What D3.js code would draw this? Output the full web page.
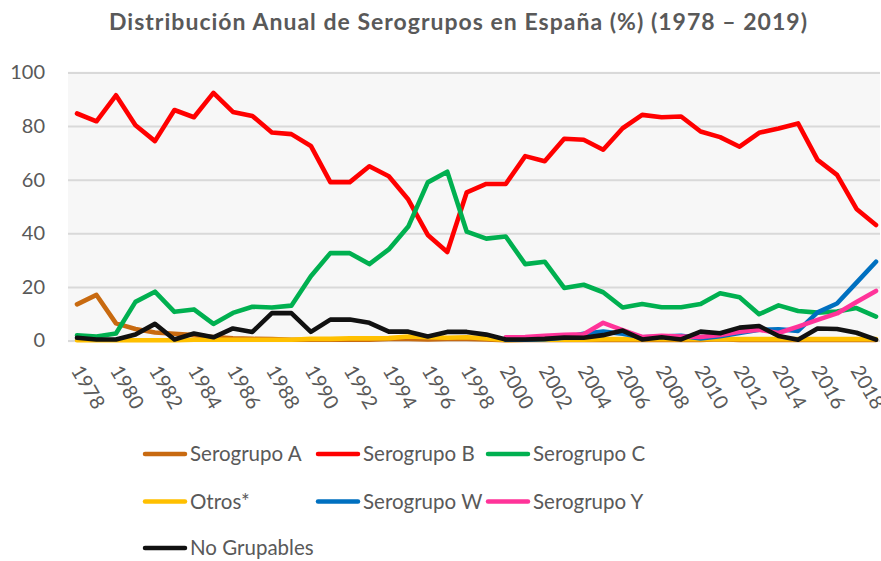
<!DOCTYPE html>
<html>
<head>
<meta charset="utf-8">
<script src="https://cdn.jsdelivr.net/npm/d3@7"></script>
<style>
  html, body { margin: 0; padding: 0; background: #fff; }
  svg { display: block; font-family: Lato, "Open Sans", sans-serif; }
</style>
</head>
<body>
<svg id="chart" width="881" height="561"></svg>
<script>
const years = d3.range(1978, 2020);
const tickYears = d3.range(1978, 2019, 2);
const yTicks = [0, 20, 40, 60, 80, 100];

const serogrupoA = [13.5, 17, 6.4, 4.3, 3.0, 2.5, 2.0, 1.3, 0.8, 0.6, 0.5, 0.3, 0.3, 0.3, 0.3, 0.3, 0.6, 0.6, 0.4, 0.6, 0.6, 0.4, 0.1, 0.2, 0.2, 0.2, 0.2, 0.2, 0.2, 0.2, 0.2, 0.2, 0.2, 0.5, 0.2, 0.2, 0.2, 0.2, 0.2, 0.2, 0.2, 0.2];
const serogrupoB = [84.7, 81.8, 91.5, 80.3, 74.4, 86, 83.3, 92.4, 85.3, 83.8, 77.6, 77, 72.6, 59.1, 59.1, 65, 61.3, 52.6, 39.4, 33, 55.3, 58.4, 58.4, 68.8, 66.9, 75.3, 74.9, 71.2, 79.2, 84.2, 83.3, 83.6, 78, 75.9, 72.3, 77.5, 79.1, 81, 67.4, 61.8, 49.1, 43.1];
const serogrupoC = [1.9, 1.5, 2.6, 14.4, 18.2, 10.7, 11.6, 6.2, 10.3, 12.6, 12.3, 13, 24, 32.6, 32.6, 28.5, 34, 42.5, 59, 63, 40.6, 38, 38.8, 28.5, 29.4, 19.6, 20.8, 18, 12.3, 13.6, 12.4, 12.4, 13.6, 17.6, 16.1, 9.8, 13.1, 11, 10.4, 10.8, 12.1, 8.9];
const otros = [0.1, 0.1, 0.1, 0.1, 0.1, 0.1, 0.3, 0.3, 0.3, 0.3, 0.3, 0.3, 0.6, 0.6, 0.8, 0.8, 0.9, 1.5, 1.2, 1.0, 1.2, 0.8, 0.2, 0.3, 0.3, 0.3, 0.3, 0.5, 0.5, 0.5, 0.5, 0.5, 0.5, 0.5, 0.5, 0.5, 0.5, 0.5, 0.5, 0.5, 0.5, 0.5];
const serogrupoW = [null, null, null, null, null, null, null, null, null, null, null, null, null, null, null, null, null, null, null, null, null, null, 0.3, 0.3, 0.5, 1, 2.5, 3.3, 2.5, 1.2, 1.5, 1.8, 0.8, 1.6, 2.8, 4, 4.2, 3.6, 10.5, 13.8, 21.6, 29.4];
const serogrupoY = [null, null, null, null, null, null, null, null, null, null, null, null, null, null, null, null, null, null, null, null, null, null, 1.2, 1.3, 1.8, 2.1, 2.3, 6.6, 3.9, 1.3, 1.8, 1.5, 1.3, 2.1, 3.3, 4, 2.8, 5.2, 7.7, 10.1, 14.4, 18.5];
const noGrupables = [1, 0.4, 0.4, 2.2, 6.2, 0.4, 2.6, 1.2, 4.5, 3.2, 10.2, 10.2, 3.2, 7.8, 7.8, 6.6, 3.3, 3.3, 1.5, 3.2, 3.2, 2.2, 0.4, 0.4, 0.6, 1.1, 1, 2, 3.7, 0.4, 1.2, 0.4, 3.3, 2.7, 4.8, 5.4, 1.7, 0.3, 4.5, 4.3, 2.9, 0.3];

const seriesNames = ["Serogrupo A", "Serogrupo B", "Serogrupo C", "Otros*", "Serogrupo W", "Serogrupo Y", "No Grupables"];
const seriesValues = [serogrupoA, serogrupoB, serogrupoC, otros, serogrupoW, serogrupoY, noGrupables];
const seriesColors = ["#c86a10", "#ff0000", "#00b050", "#ffc000", "#0070c0", "#ff3399", "#111111"];

const svg = d3.select("#chart");
const plot = { left: 68, right: 880, top: 72.5, bottom: 340.5 };

const x = d3.scalePoint().domain(years).range([77, 876]);
const y = d3.scaleLinear().domain([0, 100]).range([plot.bottom, plot.top]);

// plot background
svg.append("rect")
  .attr("x", plot.left).attr("y", plot.top - 1)
  .attr("width", plot.right - plot.left).attr("height", plot.bottom - plot.top + 3)
  .attr("fill", "#f7f7f7");

// gridlines + y labels
const yAxis = svg.append("g")
  .attr("transform", `translate(${plot.left},0)`)
  .call(d3.axisLeft(y).tickValues(yTicks).tickSize(-(plot.right - plot.left)).tickPadding(23));
yAxis.select(".domain").remove();
yAxis.selectAll(".tick line").attr("stroke", "#d9d9d9").attr("stroke-width", 2);
yAxis.selectAll(".tick text")
  .attr("fill", "#595959").attr("font-size", 20)
  .attr("font-family", "Lato, 'Open Sans', sans-serif");

// x labels
const xAxis = svg.append("g")
  .attr("transform", `translate(0,${plot.bottom})`)
  .call(d3.axisBottom(x).tickValues(tickYears).tickSize(0));
xAxis.select(".domain").remove();
xAxis.selectAll(".tick text")
  .attr("fill", "#595959").attr("font-size", 20)
  .attr("font-family", "Lato, 'Open Sans', sans-serif")
  .attr("text-anchor", "start")
  .attr("y", 0).attr("dy", 0)
  .attr("transform", "translate(-7,30) rotate(60)");

// lines
const line = d3.line()
  .defined(d => d.v !== null)
  .x(d => x(d.year))
  .y(d => y(d.v));

seriesValues.forEach((vals, i) => {
  svg.append("path")
    .datum(years.map((yr, j) => ({ year: yr, v: vals[j] })))
    .attr("fill", "none")
    .attr("stroke", seriesColors[i])
    .attr("stroke-width", 4.6)
    .attr("stroke-linejoin", "round")
    .attr("stroke-linecap", "round")
    .attr("d", line);
});

// title
svg.append("text")
  .attr("x", 458).attr("y", 30)
  .attr("text-anchor", "middle")
  .attr("font-weight", "bold")
  .attr("font-size", 23)
  .attr("fill", "#595959")
  .attr("textLength", 698)
  .attr("lengthAdjust", "spacing")
  .text("Distribución Anual de Serogrupos en España (%) (1978 – 2019)");

// legend
const legendCols = [145, 318, 488];
const legendRows = [454, 501.5, 548];
const legend = svg.append("g");
seriesNames.forEach((name, i) => {
  const cx = legendCols[i % 3];
  const cy = legendRows[Math.floor(i / 3)];
  const g = legend.append("g").attr("transform", `translate(${cx},${cy})`);
  g.append("line")
    .attr("x1", 0).attr("x2", 40).attr("y1", 0).attr("y2", 0)
    .attr("stroke", seriesColors[i]).attr("stroke-width", 4.5)
    .attr("stroke-linecap", "round");
  g.append("text")
    .attr("x", 45).attr("y", 0).attr("dy", "0.36em")
    .attr("font-size", 20.5).attr("fill", "#595959")
    .text(name);
});
</script>
</body>
</html>
